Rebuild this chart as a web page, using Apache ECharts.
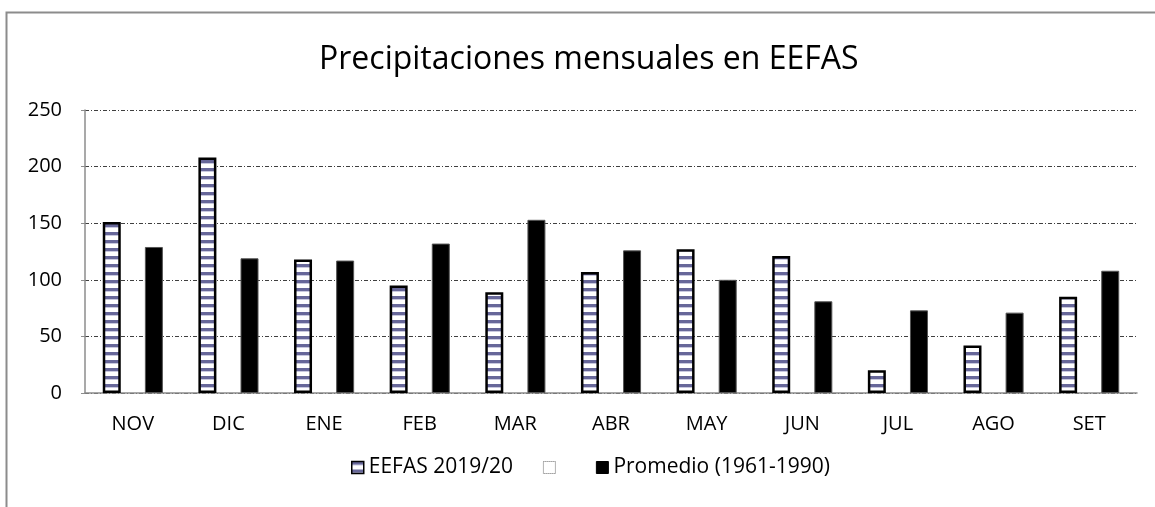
<!DOCTYPE html>
<html>
<head>
<meta charset="utf-8">
<script src="https://cdn.jsdelivr.net/npm/echarts@6/dist/echarts.min.js"></script>
<style>
html,body{margin:0;padding:0;background:#fff;}
#c{width:1155px;height:507px;}
</style>
</head>
<body>
<div id="c"></div>
<script>
var categories = ['NOV','DIC','ENE','FEB','MAR','ABR','MAY','JUN','JUL','AGO','SET'];
var eefas = [151, 208, 118, 95, 89, 107, 127, 121, 20, 42, 85];
var blankSeries = [null, null, null, null, null, null, null, null, null, null, null];
var promedio = [129, 119, 117, 132, 153, 126, 100, 81, 73, 71, 108];
var seriesNames = ['EEFAS 2019/20', ' ', 'Promedio (1961-1990)'];
var titleText = 'Precipitaciones mensuales en EEFAS';

var pc = document.createElement('canvas');
pc.width = 8; pc.height = 8;
var ctx = pc.getContext('2d');
ctx.fillStyle = '#ffffff'; ctx.fillRect(0,0,8,8);
ctx.fillStyle = '#676799'; ctx.fillRect(0,0,8,3);
ctx.fillStyle = '#c9c9df'; ctx.fillRect(0,3,8,1);
var stripe = {image: pc, repeat: 'repeat'};

var FONT = 'Open Sans';
var chart = echarts.init(document.getElementById('c'), null, {renderer: 'canvas'});
chart.setOption({
  backgroundColor: '#fff',
  animation: false,
  textStyle: {fontFamily: FONT},
  graphic: [{
    type: 'rect', left: 4, top: 10, silent: true,
    shape: {x: 0, y: 0, width: 1200, height: 600},
    style: {fill: 'none', stroke: '#8c8c8c', lineWidth: 2}
  }],
  title: {
    text: titleText, left: 314, top: 39,
    textStyle: {fontFamily: FONT, fontSize: 32, fontWeight: 'normal', color: '#000'}
  },
  legend: {
    bottom: 24, left: 346, icon: 'rect',
    itemWidth: 12, itemHeight: 12, itemGap: 30,
    textStyle: {fontFamily: FONT, fontSize: 21, color: '#000'},
    data: [
      {name: seriesNames[0], itemStyle: {color: stripe, borderColor: '#000', borderWidth: 1.5}},
      {name: seriesNames[1], itemStyle: {color: '#fff', borderColor: '#666', borderWidth: 1, borderType: 'dotted'}},
      {name: seriesNames[2], itemStyle: {color: '#000', borderColor: '#000', borderWidth: 1}}
    ]
  },
  grid: {left: 85, right: 18, top: 110, bottom: 114},
  xAxis: {
    type: 'category', data: categories,
    axisLine: {lineStyle: {color: '#8c8c8c', width: 1.5}},
    axisTick: {show: false},
    axisLabel: {fontFamily: FONT, fontSize: 20, color: '#000', margin: 21}
  },
  yAxis: {
    type: 'value', min: 0, max: 250, interval: 50,
    axisLine: {show: true, lineStyle: {color: '#8c8c8c', width: 1.5}},
    axisTick: {show: true, length: 4, lineStyle: {color: '#8c8c8c'}},
    axisLabel: {fontFamily: FONT, fontSize: 20, color: '#000', margin: 23},
    splitLine: {show: true, lineStyle: {color: '#404040', width: 1, type: [4, 2, 1, 2]}}
  },
  series: [
    {
      name: seriesNames[0], type: 'bar', data: eefas,
      barWidth: 18, barGap: '17%',
      itemStyle: {color: stripe, borderColor: '#000', borderWidth: 2.5}
    },
    {
      name: seriesNames[1], type: 'bar', data: blankSeries,
      barWidth: 18, barGap: '17%',
      itemStyle: {color: '#fff', borderColor: '#666', borderWidth: 1, borderType: 'dotted'}
    },
    {
      name: seriesNames[2], type: 'bar', data: promedio,
      barWidth: 18, barGap: '17%',
      itemStyle: {color: '#000', borderColor: '#555', borderWidth: 1}
    }
  ]
});
</script>
</body>
</html>
